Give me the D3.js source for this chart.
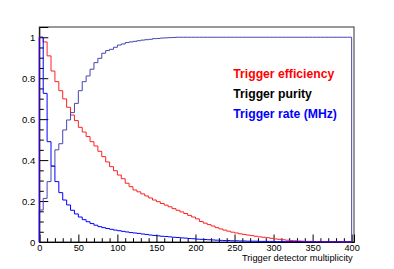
<!DOCTYPE html>
<html><head><meta charset="utf-8">
<script src="https://cdn.jsdelivr.net/npm/d3@7"></script>
<style>body{margin:0;background:#fff;}svg{display:block;}</style>
</head><body>
<svg id="c" width="394" height="269"></svg>
<script>
// bin low edges (width 5) from 0 to 395
const binWidth = 5;
const binEdges = d3.range(0, 400, 5);
const efficiency = [1.0,0.977,0.909,0.835,0.783,0.739,0.699,0.658,0.620,0.593,
  0.560,0.537,0.515,0.490,0.469,0.443,0.417,0.391,0.368,0.348,
  0.327,0.309,0.287,0.270,0.254,0.245,0.235,0.225,0.215,0.205,
  0.197,0.188,0.180,0.172,0.163,0.155,0.147,0.139,0.130,0.122,
  0.113,0.100,0.092,0.085,0.078,0.070,0.064,0.058,0.053,0.048,
  0.044,0.040,0.037,0.034,0.031,0.028,0.025,0.023,0.021,0.018,
  0.015,0.013,0.011,0.009,0.007,0.006,0.005,0.004,0.003,0.003,
  0.002,0.002,0.001,0.001,0.001,0.001,0.001,0.0,0.0,0.0];
const purity = [0.156,0.213,0.295,0.370,0.450,0.480,0.547,0.596,0.632,0.677,
  0.739,0.783,0.811,0.844,0.876,0.897,0.922,0.935,0.941,0.951,
  0.962,0.967,0.974,0.977,0.980,0.983,0.986,0.988,0.990,0.993,
  0.994,0.996,0.997,0.998,0.999,1,1,1,1,1,
  1,1,1,1,1,1,1,1,1,1,
  1,1,1,1,1,1,1,1,1,1,
  1,1,1,1,1,1,1,1,1,1,
  1,1,1,1,1,1,1,1,1,1];
const rate = [1.0,0.726,0.490,0.371,0.295,0.241,0.205,0.181,0.155,0.137,
  0.122,0.109,0.099,0.090,0.082,0.075,0.070,0.066,0.062,0.058,
  0.055,0.052,0.049,0.046,0.044,0.042,0.039,0.037,0.034,0.032,
  0.030,0.028,0.027,0.025,0.023,0.022,0.020,0.019,0.017,0.016,
  0.014,0.013,0.012,0.011,0.010,0.009,0.008,0.007,0.007,0.006,
  0.006,0.005,0.005,0.004,0.004,0.004,0.003,0.003,0.003,0.003,
  0.002,0.002,0.002,0.002,0.002,0.002,0.002,0.001,0.001,0.001,
  0.001,0.001,0.001,0.001,0.001,0.001,0.001,0.001,0.001,0.001];
const xMajorTicks = [0,50,100,150,200,250,300,350,400];
const yMajorTicks = [0,0.2,0.4,0.6,0.8,1];
const yTickLabels = ["0","0.2","0.4","0.6","0.8","1"];
const legendLabels = ["Trigger efficiency","Trigger purity","Trigger rate (MHz)"];
const legendColors = ["#ff0000","#000000","#0000ff"];
const xTitle = "Trigger detector multiplicity";

const svg = d3.select("#c");
const L = 39.3, R = 354, T = 27, B = 242;
const x = d3.scaleLinear().domain([0,403]).range([L,R]);
const y = d3.scaleLinear().domain([0,1.05]).range([B,T]);
const font = "'Liberation Sans', Arial, Helvetica, sans-serif";

// frame
svg.append("rect").attr("x",L).attr("y",T).attr("width",R-L).attr("height",B-T)
  .attr("fill","none").attr("stroke","#333").attr("stroke-width",1);

// x axis ticks
const xAxis = svg.append("g").attr("transform",`translate(0,${B})`)
  .call(d3.axisBottom(x).tickValues(xMajorTicks).tickSize(-7.5).tickPadding(2).tickFormat(d3.format("d")));
xAxis.select(".domain").attr("stroke","#000");
xAxis.selectAll("text").attr("font-family",font).attr("font-size",9.2).attr("fill","#000");
const xMinor = svg.append("g").attr("transform",`translate(0,${B})`)
  .call(d3.axisBottom(x).tickValues(d3.range(0,401,10).filter(v=>v%50)).tickSize(-3.8).tickFormat(""));
xMinor.select(".domain").remove();

// y axis
const yAxis = svg.append("g").attr("transform",`translate(${L},0)`)
  .call(d3.axisLeft(y).tickValues(yMajorTicks).tickSize(-9).tickPadding(4).tickFormat((d,i)=>yTickLabels[i]));
yAxis.select(".domain").attr("stroke","#000");
yAxis.selectAll("text").attr("font-family",font).attr("font-size",9.5).attr("fill","#000");
const yMinor = svg.append("g").attr("transform",`translate(${L},0)`)
  .call(d3.axisLeft(y).tickValues(d3.range(0,21).map(i=>i*0.05).filter((v,i)=>i%4)).tickSize(-4.5).tickFormat(""));
yMinor.select(".domain").remove();
svg.selectAll(".tick line").attr("stroke","#000");

// histogram outlines
function histPath(vals){
  const pts = [[binEdges[0],0]];
  vals.forEach((v,i)=>{ pts.push([binEdges[i],v]); pts.push([binEdges[i]+binWidth,v]); });
  pts.push([binEdges[binEdges.length-1]+binWidth,0]);
  return d3.line().x(d=>x(d[0])).y(d=>y(d[1]))(pts);
}
svg.append("path").attr("d",histPath(efficiency)).attr("fill","none").attr("stroke","#ff2020").attr("stroke-width",1);
svg.append("path").attr("d",histPath(purity)).attr("fill","none").attr("stroke","#4646b0").attr("stroke-width",1);
svg.append("path").attr("d",histPath(rate)).attr("fill","none").attr("stroke","#0000ff").attr("stroke-width",1);

// legend
legendLabels.forEach((t,i)=>{
  svg.append("text").attr("x",233.3).attr("y",77.7+i*20.3).text(t)
    .attr("font-family",font).attr("font-weight","bold").attr("font-size",12.2).attr("fill",legendColors[i]);
});

// x title
svg.append("text").attr("x",352.7).attr("y",260.5).attr("text-anchor","end").text(xTitle)
  .attr("font-family",font).attr("font-size",9.3).attr("fill","#000");
</script>
</body></html>
